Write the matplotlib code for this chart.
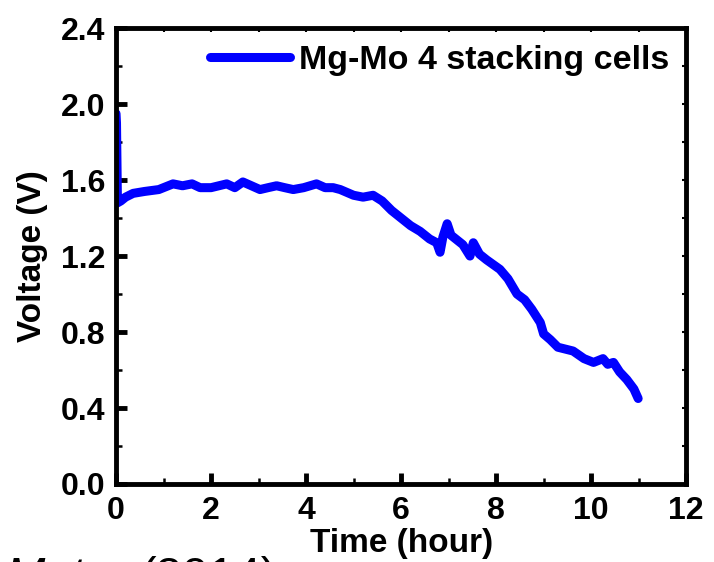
import numpy as np
import matplotlib.pyplot as plt
from matplotlib.ticker import MultipleLocator

plt.rcParams['font.family'] = ['Liberation Sans', 'DejaVu Sans']
plt.rcParams['font.weight'] = 'bold'

# discharge curve
time_h = [0.0, 0.01, 0.03, 0.1, 0.2, 0.36, 0.6, 0.9, 1.2, 1.4, 1.6, 1.77, 2.0,
          2.33, 2.5, 2.67, 2.85, 3.03, 3.2, 3.38, 3.55, 3.73, 3.95, 4.22, 4.4,
          4.57, 4.72, 5.0, 5.2, 5.41, 5.6, 5.8, 6.0, 6.2, 6.4, 6.6, 6.75, 6.82,
          6.88, 6.97, 7.05, 7.15, 7.3, 7.45, 7.52, 7.65, 7.8, 8.08, 8.25, 8.44,
          8.6, 8.75, 8.93, 9.0, 9.14, 9.3, 9.62, 9.85, 10.05, 10.25, 10.35,
          10.47, 10.6, 10.75, 10.9, 10.99]
voltage = [1.95, 1.90, 1.48, 1.49, 1.51, 1.53, 1.54, 1.55, 1.58, 1.57, 1.58, 1.56,
           1.56, 1.58, 1.56, 1.59, 1.57, 1.55, 1.56, 1.57, 1.56, 1.55, 1.56, 1.58,
           1.56, 1.56, 1.55, 1.52, 1.51, 1.52, 1.49, 1.44, 1.40, 1.36, 1.33, 1.29,
           1.27, 1.22, 1.30, 1.37, 1.31, 1.29, 1.26, 1.20, 1.27, 1.21, 1.18, 1.13,
           1.08, 1.00, 0.97, 0.92, 0.85, 0.79, 0.76, 0.72, 0.70, 0.66, 0.64, 0.66,
           0.63, 0.64, 0.59, 0.55, 0.50, 0.45]

fig = plt.figure(figsize=(7.14, 5.62), dpi=100)
ax = fig.add_axes([0.1625, 0.1388, 0.7985, 0.8112])

ax.plot(time_h, voltage, color='#0000ff', lw=6.5, solid_capstyle='round',
        solid_joinstyle='round', label='Mg-Mo 4 stacking cells')

ax.set_xlim(0, 12)
ax.set_ylim(0, 2.4)
ax.set_xticks(np.arange(0, 13, 2))
ax.set_yticks(np.arange(0, 2.41, 0.4))
ax.set_yticklabels([f'{v:.1f}' for v in np.arange(0, 2.41, 0.4)])
ax.xaxis.set_minor_locator(MultipleLocator(1))
ax.yaxis.set_minor_locator(MultipleLocator(0.2))
ax.tick_params(which='major', direction='in', length=8, width=3.5,
               labelsize=23)
ax.tick_params(axis='y', which='major', pad=8)
ax.tick_params(axis='x', which='major', pad=9)
ax.tick_params(which='minor', direction='in', length=4, width=1.8)
for s in ax.spines.values():
    s.set_linewidth(3.5)

top = ax.secondary_xaxis('top')
top.set_xticks(np.arange(0, 13, 1))
top.tick_params(direction='in', length=3, width=1.5, labeltop=False)
right = ax.secondary_yaxis('right')
right.set_yticks(np.arange(0, 2.41, 0.2))
right.tick_params(direction='in', length=3, width=1.5, labelright=False)

ax.set_xlabel('Time (hour)', fontsize=24, fontweight='bold', labelpad=1)
ax.set_ylabel('Voltage (V)', fontsize=24, fontweight='bold', labelpad=9)

ax.legend(loc='upper right', frameon=False, fontsize=24.5, handlelength=2.35,
          handletextpad=0.25, borderaxespad=0.1)

fig.text(0.008, 0.01, 'Mater', fontsize=34, style='italic',
         fontweight='normal', va='top')
fig.text(0.196, 0.01, '(2014)', fontsize=34, fontweight='normal', va='top')

fig.savefig('out.png', dpi=100)
